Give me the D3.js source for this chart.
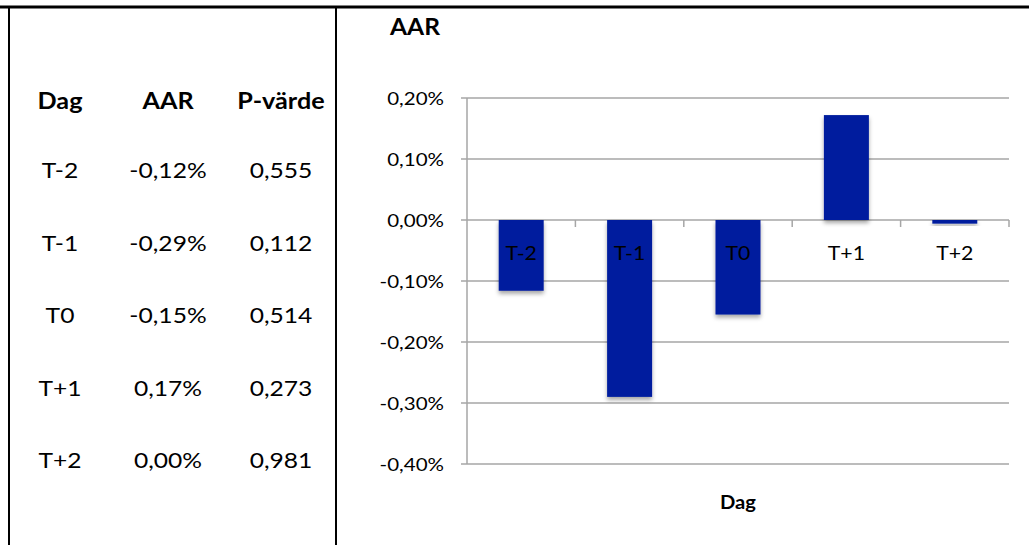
<!DOCTYPE html>
<html><head><meta charset="utf-8">
<script src="https://cdn.jsdelivr.net/npm/d3@7"></script>
<style>
html,body{margin:0;padding:0;background:#fff;}
svg{display:block;font-family:Lato,"Open Sans",sans-serif;}
</style></head>
<body>
<svg id="c" width="1029" height="545"></svg>
<script>
const days = ["T-2","T-1","T0","T+1","T+2"];
const aarValues = [-0.116, -0.29, -0.155, 0.172, -0.006]; // percent
const tableAAR = ["-0,12%","-0,29%","-0,15%","0,17%","0,00%"];
const pValues = ["0,555","0,112","0,514","0,273","0,981"];
const tableHeaders = ["Dag","AAR","P-värde"];
const yTicks = [0.2,0.1,0,-0.1,-0.2,-0.3,-0.4];

(function(){
const svg = d3.select("#c");
const SX = 1.12;
function txt(g, x, y, s, size, weight){
  return g.append("text")
    .attr("transform", `translate(${x},${y}) scale(${SX},1)`)
    .attr("text-anchor","middle")
    .attr("dominant-baseline","central")
    .style("font-size", size+"px")
    .style("font-weight", weight||"normal")
    .attr("fill","#000")
    .text(s);
}

// frame
svg.append("line").attr("x1",0).attr("x2",1029).attr("y1",7).attr("y2",7).attr("stroke","#000").attr("stroke-width",3);
svg.append("line").attr("x1",9).attr("x2",9).attr("y1",7).attr("y2",545).attr("stroke","#000").attr("stroke-width",2);
svg.append("line").attr("x1",336).attr("x2",336).attr("y1",7).attr("y2",545).attr("stroke","#000").attr("stroke-width",2);

// table
const colX = [60,168,281];
const rowY = d3.scalePoint().domain(days).range([170,460]);
const tg = svg.append("g");
tableHeaders.forEach((h,i)=> txt(tg, colX[i], 100, h, 22.5, "bold"));
days.forEach((d,i)=>{
  txt(tg, colX[0], rowY(d), d, 22);
  txt(tg, colX[1], rowY(d), tableAAR[i], 22);
  txt(tg, colX[2], rowY(d), pValues[i], 22);
});

// chart
const pl = 467, pr = 1009, pt = 98, pb = 464;
const x = d3.scaleBand().domain(days).range([pl,pr]).paddingInner(0.585).paddingOuter(0.2925);
const xb = d3.scaleBand().domain(days).range([pl,pr]);
const y = d3.scaleLinear().domain([-0.4,0.2]).range([pb,pt]);
const loc = d3.formatLocale({decimal:",",thousands:" ",grouping:[3],currency:["","kr"],minus:"-"});
const fmt = v => loc.format(".2f")(v) + "%";

const defs = svg.append("defs");
const f = defs.append("filter").attr("id","sh").attr("x","-20%").attr("y","-20%").attr("width","140%").attr("height","160%");
f.append("feDropShadow").attr("dx",0).attr("dy",3).attr("stdDeviation",2).attr("flood-color","#000").attr("flood-opacity",0.35);

// grid
svg.append("g").selectAll("line").data(yTicks).join("line")
  .attr("x1",pl-6).attr("x2",pr).attr("y1",d=>y(d)).attr("y2",d=>y(d))
  .attr("stroke","#a6a6a6").attr("stroke-width",1.5);
// y axis line
svg.append("line").attr("x1",pl).attr("x2",pl).attr("y1",pt).attr("y2",pb).attr("stroke","#a6a6a6").attr("stroke-width",1.5);
// y labels
const yl = svg.append("g");
yTicks.forEach(t=>{
  yl.append("text").attr("transform",`translate(${pl-23},${y(t)}) scale(1.14,1)`)
    .attr("text-anchor","end").attr("dominant-baseline","central")
    .style("font-size","18px").text(fmt(t));
});
// x ticks at category boundaries
const bounds = days.map(d=>xb(d)).concat([pr]);
svg.append("g").selectAll("line").data(bounds.slice(1)).join("line")
  .attr("x1",d=>d).attr("x2",d=>d).attr("y1",y(0)).attr("y2",y(0)+7)
  .attr("stroke","#a6a6a6").attr("stroke-width",1.5);

// bars
svg.append("g").selectAll("rect").data(days).join("rect")
  .attr("x",d=>x(d)).attr("width",x.bandwidth())
  .attr("y",(d,i)=>y(Math.max(0,aarValues[i])))
  .attr("height",(d,i)=>Math.abs(y(aarValues[i])-y(0)))
  .attr("fill","#011e9e").attr("filter","url(#sh)");

// category labels
const cl = svg.append("g");
days.forEach(d=> txt(cl, xb(d)+xb.bandwidth()/2, 252, d, 19));

// titles
txt(svg, 415, 27, "AAR", 22, "bold");
txt(svg, (pl+pr)/2, 502, "Dag", 18, "bold");
})();
</script>
</body></html>
